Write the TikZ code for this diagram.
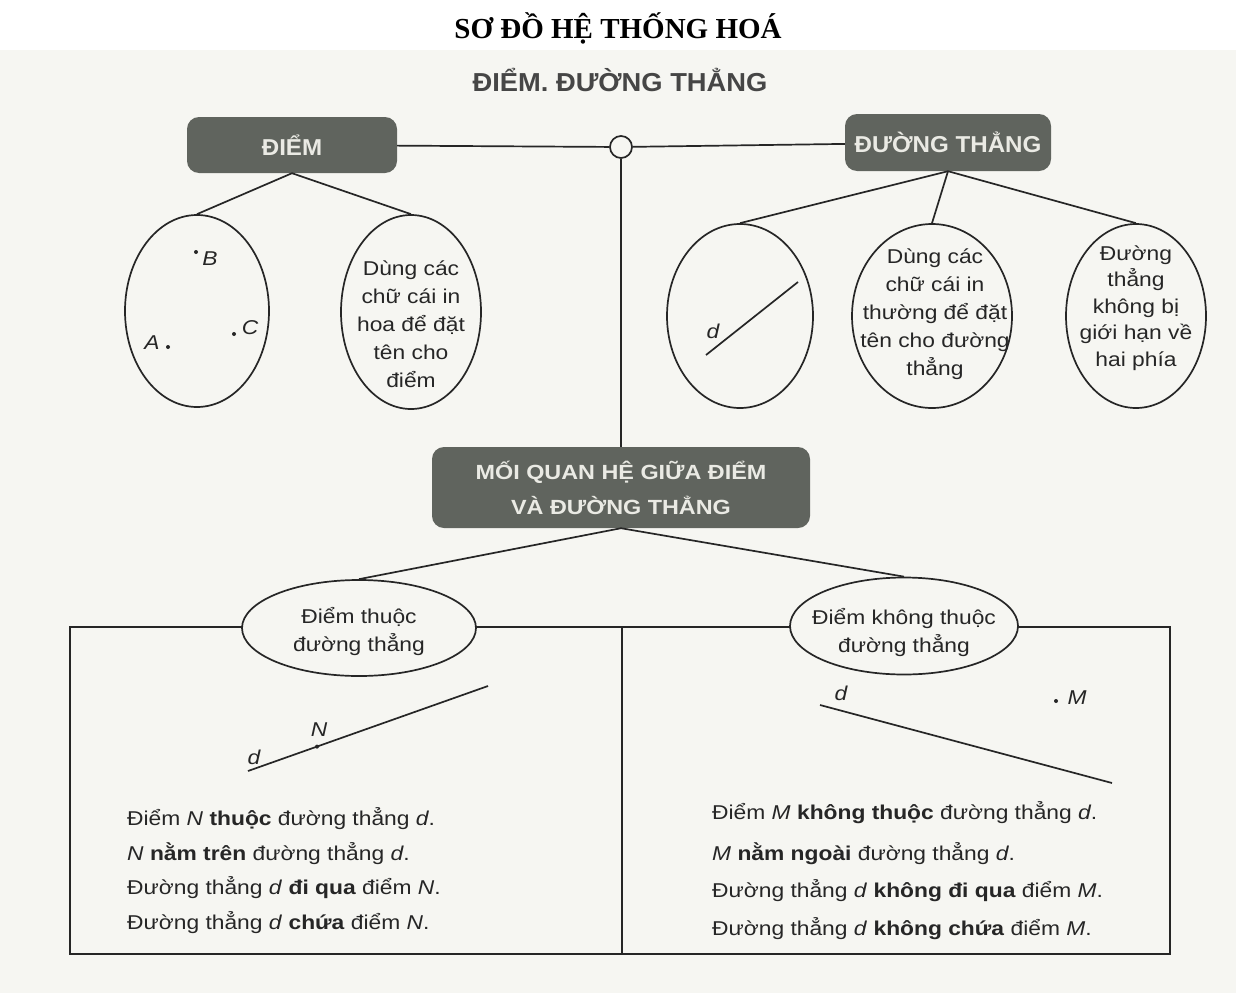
\documentclass[tikz,border=0pt]{standalone}
\usepackage{fontspec}
\setmainfont{Liberation Sans}[FakeStretch=1.14]
\newfontfamily\headf{Liberation Sans}[FakeStretch=1.05]
\newfontfamily\titlef{Liberation Serif}
\usetikzlibrary{shapes.geometric}
\definecolor{bg}{RGB}{246,246,242}
\definecolor{boxc}{RGB}{96,100,94}
\definecolor{boxt}{RGB}{234,234,228}
\definecolor{ink}{RGB}{38,38,38}
\definecolor{headc}{RGB}{70,70,70}
\begin{document}
\begin{tikzpicture}[x=1pt,y=-1pt,
  conn/.style={draw=ink, line width=1.7pt},
  hbox/.style={rectangle, rounded corners=12pt, fill=boxc, text=boxt, font=\headf\bfseries\fontsize{23}{28}\selectfont, inner sep=0pt},
  oval/.style={ellipse, draw=ink, line width=1.7pt, fill=bg, inner sep=0pt},
  otext/.style={align=center, text=ink, font=\fontsize{20}{28}\selectfont, inner sep=0pt},
  lbl/.style={text=ink, font=\itshape\fontsize{20}{24}\selectfont, inner sep=0pt},
  stmt/.style={anchor=base west, text=ink, font=\fontsize{20}{24}\selectfont, inner sep=0pt},
  pdot/.style={circle, fill=ink, minimum size=4pt, inner sep=0pt}
]
\useasboundingbox (0,0) rectangle (1236,993);
\fill[white] (0,0) rectangle (1236,993);
\fill[bg] (0,50) rectangle (1236,993);

% titles
\node[text=black, font=\titlef\bfseries\fontsize{29}{34}\selectfont] (title) at (618,28) {SƠ ĐỒ HỆ THỐNG HOÁ};
\node[text=headc, font=\headf\bfseries\fontsize{26}{30}\selectfont] (head) at (620,80) {ĐIỂM. ĐƯỜNG THẲNG};

% main boxes
\node[hbox, minimum width=210pt, minimum height=56pt] (diem) at (292,145) {ĐIỂM};
\node[hbox, minimum width=206pt, minimum height=57pt] (dt) at (948,142.5) {ĐƯỜNG THẲNG};
\node[circle, draw=ink, line width=1.7pt, fill=bg, minimum size=22pt, inner sep=0pt] (hub) at (621,147) {};
\node[hbox, minimum width=378pt, minimum height=81pt, align=center, font=\bfseries\fontsize{20.5}{35}\selectfont] (rel) at (621,487.5) {MỐI QUAN HỆ GIỮA ĐIỂM\\VÀ ĐƯỜNG THẲNG};

\draw[conn] (diem) -- (hub);
\draw[conn] (hub) -- (dt);
\draw[conn] (hub) -- (rel);

% ĐIỂM branch
\node[oval, minimum width=144pt, minimum height=192pt] (e1) at (197,311) {};
\node[oval, minimum width=140pt, minimum height=194pt] (e2) at (411,312) {};
\node[otext] (t2) at (411,324) {Dùng các\\chữ cái in\\hoa để đặt\\tên cho\\điểm};
\draw[conn] (diem.south) -- (e1.north);
\draw[conn] (diem.south) -- (e2.north);
\node[pdot] (pB) at (196,252) {};
\node[lbl] (lB) at (210,259) {B};
\node[pdot] (pA) at (168,347) {};
\node[lbl] (lA) at (152,343) {A};
\node[pdot] (pC) at (234,334) {};
\node[lbl] (lC) at (250,328) {C};

% ĐƯỜNG THẲNG branch
\node[oval, minimum width=146pt, minimum height=184pt] (e3) at (740,316) {};
\coordinate (d1a) at (706,355);
\coordinate (d1b) at (798,282);
\draw[conn] (d1a) -- (d1b);
\node[lbl] (ld1) at (713,331) {d};
\node[oval, minimum width=160pt, minimum height=184pt] (e4) at (932,316) {};
\node[otext] (t4) at (935,314) {Dùng các\\chữ cái in\\thường để đặt\\tên cho đường\\thẳng};
\node[oval, minimum width=140pt, minimum height=184pt] (e5) at (1136,316) {};
\node[otext, font=\fontsize{20}{26.5}\selectfont] (t5) at (1136,308) {Đường\\thẳng\\không bị\\giới hạn về\\hai phía};
\draw[conn] (dt.south) -- (e3.north);
\draw[conn] (dt.south) -- (e4.north);
\draw[conn] (dt.south) -- (e5.north);

% relation part
\coordinate (bTL) at (70,627);
\coordinate (bBR) at (1170,954);
\coordinate (bTM) at (622,627);
\coordinate (bBM) at (622,954);
\draw[conn] (bTL) rectangle (bBR);
\draw[conn] (bTM) -- (bBM);

\node[oval, minimum width=234pt, minimum height=96pt] (o1) at (359,628) {};
\node[otext] (to1) at (359,631) {Điểm thuộc\\đường thẳng};
\node[oval, minimum width=228pt, minimum height=97pt] (o2) at (904,626) {};
\node[otext] (to2) at (904,632) {Điểm không thuộc\\đường thẳng};
\draw[conn] (rel.south) -- (o1.north);
\draw[conn] (rel.south) -- (o2.north);

% left figure
\coordinate (dl1) at (248,771);
\coordinate (dl2) at (488,686);
\draw[conn] (dl1) -- (dl2);
\node[pdot] (pN) at (317,746.6) {};
\node[lbl] (lN) at (319,730) {N};
\node[lbl] (ld2) at (254,757) {d};

% right figure
\coordinate (dr1) at (820,705);
\coordinate (dr2) at (1112,783);
\draw[conn] (dr1) -- (dr2);
\node[lbl] (ld3) at (841,693) {d};
\node[pdot] (pM) at (1056,701) {};
\node[lbl] (lM) at (1077,698) {M};

% statements
\node[stmt] (s1) at (127,825) {Điểm \textit{N} \textbf{thuộc} đường thẳng \textit{d}.};
\node[stmt] (s2) at (127,860) {\textit{N} \textbf{nằm trên} đường thẳng \textit{d}.};
\node[stmt] (s3) at (127,894) {Đường thẳng \textit{d} \textbf{đi qua} điểm \textit{N}.};
\node[stmt] (s4) at (127,929) {Đường thẳng \textit{d} \textbf{chứa} điểm \textit{N}.};
\node[stmt] (r1) at (712,819) {Điểm \textit{M} \textbf{không thuộc} đường thẳng \textit{d}.};
\node[stmt] (r2) at (712,860) {\textit{M} \textbf{nằm ngoài} đường thẳng \textit{d}.};
\node[stmt] (r3) at (712,897) {Đường thẳng \textit{d} \textbf{không đi qua} điểm \textit{M}.};
\node[stmt] (r4) at (712,935) {Đường thẳng \textit{d} \textbf{không chứa} điểm \textit{M}.};
\end{tikzpicture}
\end{document}
